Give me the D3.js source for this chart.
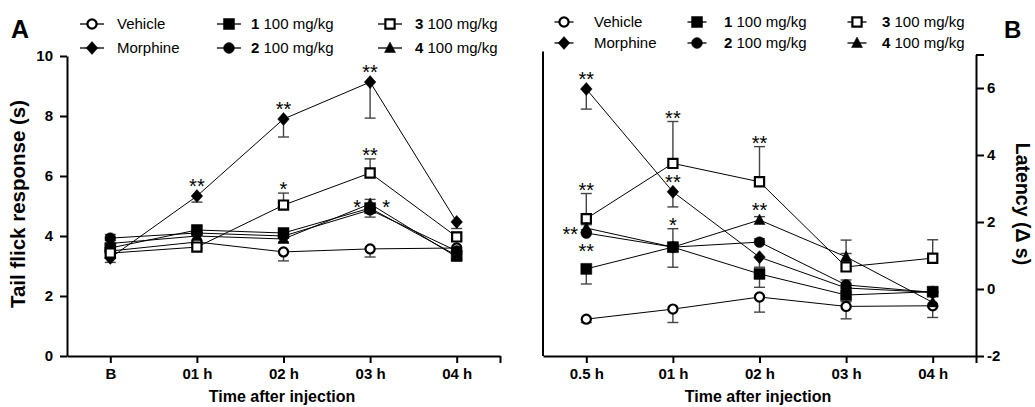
<!DOCTYPE html>
<html>
<head>
<meta charset="utf-8">
<script src="https://cdn.jsdelivr.net/npm/d3@7"></script>
<style>
  body { margin: 0; background: #fff; }
  svg { font-family: "Liberation Sans", Arial, sans-serif; }
</style>
</head>
<body>
<svg id="chart" width="1035" height="407"></svg>
<script>
// ---- data ----
var seriesKeys = ['Vehicle', 'Morphine', '1', '2', '3', '4']

// Panel A: tail flick response (s)
var catsA = ['B', '01 h', '02 h', '03 h', '04 h']
var vehicleA  = [3.50, 3.80, 3.47, 3.57, 3.60]
var morphineA = [3.27, 5.33, 7.90, 9.13, 4.47]
var comp1A    = [3.60, 4.20, 4.10, 4.93, 3.35]
var comp2A    = [3.93, 4.10, 4.00, 4.87, 3.50]
var comp3A    = [3.43, 3.63, 5.03, 6.10, 3.97]
var comp4A    = [3.75, 4.00, 3.90, 5.07, 3.30]
// signed SEM: + drawn upward, - drawn downward
var vehicleErrA  = [-0.15, -0.20, -0.30, -0.27, -0.15]
var morphineErrA = [-0.15, -0.20, -0.60, -1.20, -0.22]
var comp1ErrA    = [0.10, 0.10, 0.10, -0.30, -0.10]
var comp2ErrA    = [0.12, 0.10, 0.10, 0.10, -0.10]
var comp3ErrA    = [0.10, 0.10, 0.40, 0.47, 0.15]
var comp4ErrA    = [0.10, 0.10, -0.10, 0.15, -0.10]
var starsA = [
  {key: 'Morphine', i: 1, text: '**', at: 'top'},
  {key: 'Morphine', i: 2, text: '**', at: 'top'},
  {key: 'Morphine', i: 3, text: '**', at: 'top'},
  {key: '3', i: 2, text: '*', at: 'top'},
  {key: '3', i: 3, text: '**', at: 'top'},
  {key: '1', i: 3, text: '*', at: 'left'},
  {key: '1', i: 3, text: '*', at: 'right'}
]

// Panel B: latency (delta s)
var catsB = ['0.5 h', '01 h', '02 h', '03 h', '04 h']
var vehicleB  = [-0.90, -0.60, -0.24, -0.52, -0.50]
var morphineB = [5.97, 2.90, 0.95, 0.03, -0.10]
var comp1B    = [0.60, 1.25, 0.45, -0.18, -0.08]
var comp2B    = [1.67, 1.25, 1.40, 0.12, -0.10]
var comp3B    = [2.10, 3.75, 3.20, 0.66, 0.92]
var comp4B    = [1.82, 1.25, 2.06, 0.96, -0.40]
var vehicleErrB  = [-0.10, -0.40, -0.45, -0.37, -0.35]
var morphineErrB = [-0.60, -0.45, -0.30, -0.15, -0.10]
var comp1ErrB    = [-0.45, -0.60, -0.40, -0.20, 0.12]
var comp2ErrB    = [0.10, 0.55, 0.10, 0.15, 0.10]
var comp3ErrB    = [0.75, 1.25, 1.05, 0.80, 0.55]
var comp4ErrB    = [0.10, 0.10, 0.10, 0.10, -0.10]
var starsB = [
  {key: 'Morphine', i: 0, text: '**', at: 'top'},
  {key: '3', i: 0, text: '**', at: 'top'},
  {key: '2', i: 0, text: '**', at: 'left'},
  {key: '2', i: 0, text: '**', at: 'below'},
  {key: '3', i: 1, text: '**', at: 'top'},
  {key: 'Morphine', i: 1, text: '**', at: 'top'},
  {key: '2', i: 1, text: '*', at: 'top'},
  {key: '3', i: 2, text: '**', at: 'top'},
  {key: '4', i: 2, text: '**', at: 'top'}
]

var svg = d3.select('#chart')

// ---- marker shapes ----
var markerOf = {Vehicle: 'circleOpen', Morphine: 'diamond', '1': 'square', '2': 'circle', '3': 'squareOpen', '4': 'triangle'}

function markerPath(type) {
  if (type == 'square') return 'M-5.5,-5.5h11v11h-11Z'
  if (type == 'squareOpen') return 'M-4.6,-4.6h9.2v9.2h-9.2Z'
  if (type == 'diamond') return 'M0,-6.5L5.8,0L0,6.5L-5.8,0Z'
  if (type == 'circle') return d3.symbol(d3.symbolCircle, 92)()
  if (type == 'circleOpen') return d3.symbol(d3.symbolCircle, 66)()
  if (type == 'triangle') return 'M0,-6L5.5,4.5L-5.5,4.5Z'
}

function drawMarker(g, type, x, y) {
  var open = type == 'circleOpen' || type == 'squareOpen'
  g.append('path')
    .attr('d', markerPath(type))
    .attr('transform', 'translate(' + x + ',' + y + ')')
    .attr('fill', open ? '#fff' : '#000')
    .attr('stroke', '#000')
    .attr('stroke-width', open ? 2.2 : 0.5)
}

function styleAxis(g) {
  g.selectAll('.domain').attr('stroke', '#000').attr('stroke-width', 2)
  g.selectAll('.tick line').attr('stroke', '#000').attr('stroke-width', 2)
  g.selectAll('.tick text')
    .attr('fill', '#000')
    .style('font-size', '15px')
    .style('font-weight', 'bold')
}

function drawLegend(cols, rows, lineHalf) {
  var entries = [
    [{key: 'Vehicle', num: '', text: 'Vehicle'}, {key: 'Morphine', num: '', text: 'Morphine'}],
    [{key: '1', num: '1', text: ' 100 mg/kg'}, {key: '2', num: '2', text: ' 100 mg/kg'}],
    [{key: '3', num: '3', text: ' 100 mg/kg'}, {key: '4', num: '4', text: ' 100 mg/kg'}]
  ]
  var lg = svg.append('g')
  entries.forEach(function(col, c) {
    col.forEach(function(e, r) {
      var cx = cols[c].mark
      var cy = rows[r]
      lg.append('line')
        .attr('x1', cx - lineHalf).attr('x2', cx + lineHalf)
        .attr('y1', cy).attr('y2', cy)
        .attr('stroke', '#000').attr('stroke-width', 1.3)
      drawMarker(lg, markerOf[e.key], cx, cy)
      var t = lg.append('text')
        .attr('x', cols[c].text)
        .attr('y', cy + 5.3)
        .style('font-size', '15px')
      if (e.num) t.append('tspan').style('font-weight', 'bold').text(e.num)
      t.append('tspan').text(e.text)
    })
  })
}

function drawPanel(p) {
  var g = svg.append('g')
  var x = p.x, y = p.y

  var line = d3.line()
    .x(function(d, i) { return x(i) })
    .y(function(d) { return y(d) })

  // connecting lines
  seriesKeys.forEach(function(k) {
    g.append('path')
      .attr('d', line(p.values[k]))
      .attr('fill', 'none')
      .attr('stroke', '#000')
      .attr('stroke-width', 1)
  })

  // error bars
  seriesKeys.forEach(function(k) {
    p.values[k].forEach(function(v, i) {
      var e = p.errors[k][i]
      var yEnd = y(v + e)
      g.append('line')
        .attr('x1', x(i)).attr('x2', x(i))
        .attr('y1', y(v)).attr('y2', yEnd)
        .attr('stroke', '#444').attr('stroke-width', 1.4)
      g.append('line')
        .attr('x1', x(i) - 5.5).attr('x2', x(i) + 5.5)
        .attr('y1', yEnd).attr('y2', yEnd)
        .attr('stroke', '#444').attr('stroke-width', 1.4)
    })
  })

  // markers
  seriesKeys.forEach(function(k) {
    p.values[k].forEach(function(v, i) {
      drawMarker(g, markerOf[k], x(i), y(v))
    })
  })

  // significance stars
  p.stars.forEach(function(s) {
    var v = p.values[s.key][s.i]
    var e = p.errors[s.key][s.i]
    var px = x(s.i)
    var py = y(v)
    var top = py - 6
    if (e > 0) top = Math.min(top, y(v + e))
    var tx = px, ty = top + 3
    if (s.at == 'left') { tx = px - 16; ty = py + 8 }
    if (s.at == 'right') { tx = px + 16; ty = py + 6 }
    if (s.at == 'below') { ty = py + 25 }
    if (s.at == 'left' && s.text == '*') { tx = px - 13; ty = py + 6 }
    g.append('text')
      .attr('x', tx).attr('y', ty)
      .attr('text-anchor', 'middle')
      .style('font-size', '20px')
      .text(s.text)
  })
}

// ---- panel A ----
var xA = d3.scaleLinear().domain([-0.5, 4.5]).range([67, 500])
var yA = d3.scaleLinear().domain([0, 10]).range([356, 56])

var axA = svg.append('g').attr('transform', 'translate(0,356)')
  .call(d3.axisBottom(xA).tickValues([0, 1, 2, 3, 4, 4.5])
    .tickFormat(function(d) { return catsA[d] || '' })
    .tickSize(7).tickSizeOuter(0).tickPadding(5))
styleAxis(axA)
var ayA = svg.append('g').attr('transform', 'translate(67,0)')
  .call(d3.axisLeft(yA).tickValues([0, 2, 4, 6, 8, 10])
    .tickFormat(function(d) { return String(d) })
    .tickSize(7).tickSizeOuter(0).tickPadding(7))
styleAxis(ayA)

drawPanel({
  x: xA, y: yA,
  values: {Vehicle: vehicleA, Morphine: morphineA, '1': comp1A, '2': comp2A, '3': comp3A, '4': comp4A},
  errors: {Vehicle: vehicleErrA, Morphine: morphineErrA, '1': comp1ErrA, '2': comp2ErrA, '3': comp3ErrA, '4': comp4ErrA},
  stars: starsA
})

// ---- panel B ----
var xB = d3.scaleLinear().domain([-0.5, 4.5]).range([543, 976])
var yB = d3.scaleLinear().domain([-2, 7]).range([356, 54.5])

svg.append('line')
  .attr('x1', 543).attr('x2', 543)
  .attr('y1', yB(7) - 3).attr('y2', yB(-2))
  .attr('stroke', '#000').attr('stroke-width', 2)
var axB = svg.append('g').attr('transform', 'translate(0,356)')
  .call(d3.axisBottom(xB).tickValues([0, 1, 2, 3, 4, 4.5])
    .tickFormat(function(d) { return catsB[d] || '' })
    .tickSize(7).tickSizeOuter(0).tickPadding(5))
styleAxis(axB)
var ayB = svg.append('g').attr('transform', 'translate(976,0)')
  .call(d3.axisRight(yB).tickValues([-2, 0, 2, 4, 6, 7])
    .tickFormat(function(d) { return d == 7 ? '' : String(d) })
    .tickSize(8).tickSizeOuter(0).tickPadding(3))
styleAxis(ayB)

drawPanel({
  x: xB, y: yB,
  values: {Vehicle: vehicleB, Morphine: morphineB, '1': comp1B, '2': comp2B, '3': comp3B, '4': comp4B},
  errors: {Vehicle: vehicleErrB, Morphine: morphineErrB, '1': comp1ErrB, '2': comp2ErrB, '3': comp3ErrB, '4': comp4ErrB},
  stars: starsB
})

// ---- legends ----
drawLegend([{mark: 92, text: 117}, {mark: 229, text: 251}, {mark: 390, text: 415}], [24, 48], 12)
drawLegend([{mark: 564, text: 594}, {mark: 697, text: 724}, {mark: 857, text: 882}], [22, 43], 9.5)

// ---- titles ----
svg.append('text').attr('x', 11).attr('y', 38)
  .style('font-size', '25px').style('font-weight', 'bold').text('A')
svg.append('text').attr('x', 1004).attr('y', 38)
  .style('font-size', '24px').style('font-weight', 'bold').text('B')

svg.append('text')
  .attr('transform', 'translate(25,204) rotate(-90)')
  .attr('text-anchor', 'middle')
  .style('font-size', '20.5px').style('font-weight', 'bold')
  .text('Tail flick response (s)')
svg.append('text')
  .attr('transform', 'translate(1016,204) rotate(90)')
  .attr('text-anchor', 'middle')
  .style('font-size', '19.5px').style('font-weight', 'bold')
  .text('Latency (\u0394 s)')

svg.append('text').attr('x', 282).attr('y', 402)
  .attr('text-anchor', 'middle')
  .style('font-size', '16px').style('font-weight', 'bold')
  .text('Time after injection')
svg.append('text').attr('x', 758).attr('y', 402)
  .attr('text-anchor', 'middle')
  .style('font-size', '16px').style('font-weight', 'bold')
  .text('Time after injection')
</script>
</body>
</html>
